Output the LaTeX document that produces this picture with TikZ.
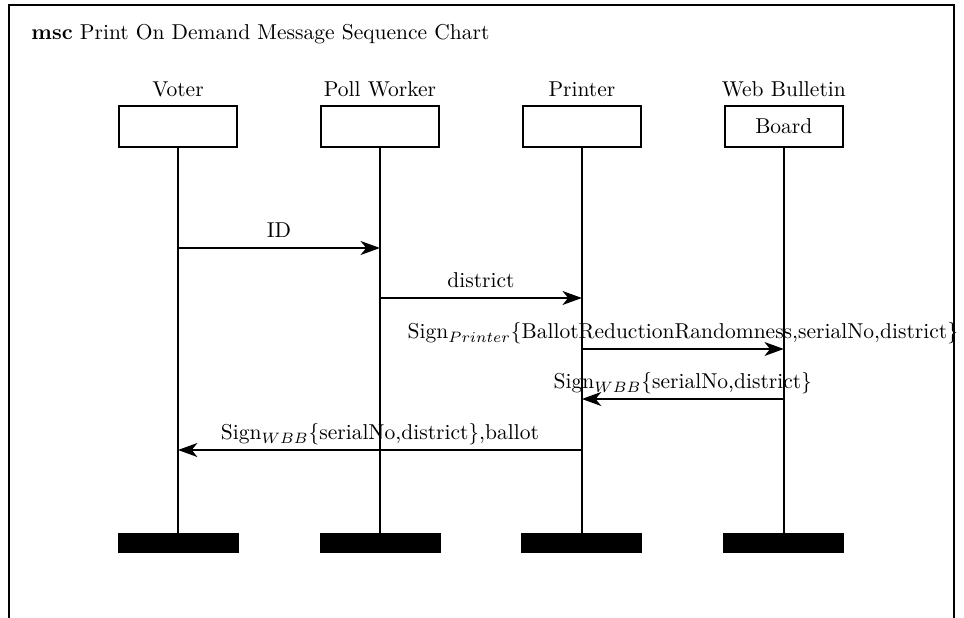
\documentclass[tikz,border=0pt]{standalone}
\usepackage{tikz}
\usetikzlibrary{arrows.meta,positioning,calc}
\tikzset{
  mscframe/.style={draw, line width=0.8pt},
  insthead/.style={draw, line width=0.8pt, minimum width=54.9pt, minimum height=19.1pt, inner sep=0pt},
  instfoot/.style={draw, fill=black, minimum width=55.8pt, minimum height=8.8pt, inner sep=0pt},
  instname/.style={inner sep=0pt},
  lifeline/.style={line width=0.8pt},
  msg/.style={-{Stealth[length=9pt, width=6.5pt, inset=2.6pt]}, line width=0.8pt},
  msglabel/.style={anchor=base, inner sep=0pt, yshift=4.65pt}
}

\begin{document}
\begin{tikzpicture}[x=0.465pt, y=-0.465pt]
  \useasboundingbox (0,0) rectangle (964,618);
  % frame and title
  \draw[mscframe] (9,5) rectangle (954,618.5);
  \node[anchor=base west, inner sep=0pt] (title) at (31,40) {\textbf{msc} Print On Demand Message Sequence Chart};

  % instance heads
  \node[insthead] (voter) at (178,126.5) {};
  \node[insthead, right=38.2pt of voter] (poll) {};
  \node[insthead, right=38.2pt of poll] (printer) {};
  \node[insthead, right=38.2pt of printer] (wbb) {Board};
  \node[instname, above=4.2pt of voter.north, anchor=base] (votername) {Voter};
  \node[instname, above=4.2pt of poll.north, anchor=base] (pollname) {Poll Worker};
  \node[instname, above=4.2pt of printer.north, anchor=base] (printername) {Printer};
  \node[instname, above=4.2pt of wbb.north, anchor=base] (wbbname) {Web Bulletin};

  % instance feet
  \node[instfoot] (voterfoot) at (voter |- 0,542.5) {};
  \node[instfoot] (pollfoot) at (poll |- 0,542.5) {};
  \node[instfoot] (printerfoot) at (printer |- 0,542.5) {};
  \node[instfoot] (wbbfoot) at (wbb |- 0,542.5) {};

  % lifelines
  \foreach \inst in {voter, poll, printer, wbb}
    \draw[lifeline] (\inst) -- (\inst foot);

  % message levels
  \coordinate (lvl1) at (0,248);
  \coordinate (lvl2) at (0,298);
  \coordinate (lvl3) at (0,349);
  \coordinate (lvl4) at (0,399);
  \coordinate (lvl5) at (0,450);

  % messages
  \draw[msg] (voter |- lvl1) -- node[msglabel] (idlabel) {ID} (poll |- lvl1);
  \draw[msg] (poll |- lvl2) -- node[msglabel] (districtlabel) {district} (printer |- lvl2);
  \draw[msg] (printer |- lvl3) -- node[msglabel] (signprinter) {Sign$_{Printer}\{$BallotReductionRandomness,serialNo,district$\}$} (wbb |- lvl3);
  \draw[msg] (wbb |- lvl4) -- node[msglabel] (signwbb) {Sign$_{WBB}\{$serialNo,district$\}$} (printer |- lvl4);
  \draw[msg] (printer |- lvl5) -- node[msglabel] (ballotlabel) {Sign$_{WBB}\{$serialNo,district$\}$,ballot} (voter |- lvl5);
\end{tikzpicture}
\end{document}
